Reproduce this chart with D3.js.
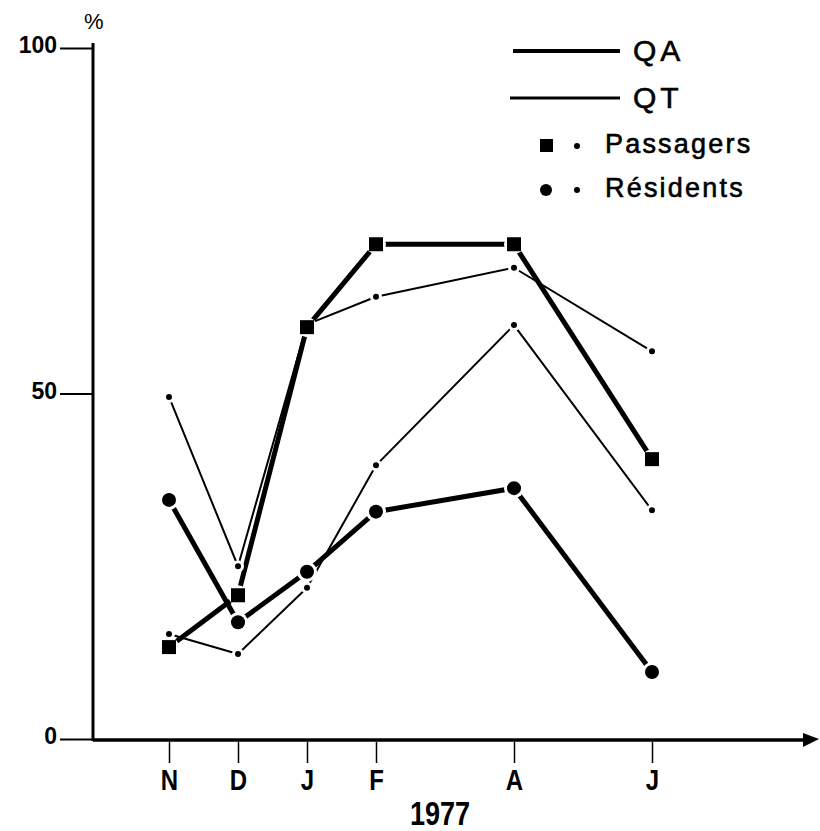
<!DOCTYPE html>
<html><head><meta charset="utf-8">
<script src="https://cdn.jsdelivr.net/npm/d3@7"></script>
<style>
body{margin:0;background:#fff;}
text{font-family:"Liberation Sans",Arial,sans-serif;fill:#000;}
</style></head>
<body>
<svg id="c" width="820" height="831"></svg>
<script>
const monthLabels = ["N","D","J","F","A","J"];
const monthIndex = [0,1,2,3,5,7];
const yTicks = [0,50,100];
const qaPassagers = [13.3,20.8,59.6,71.6,71.6,40.5];
const qaResidents = [34.6,16.9,24.2,32.9,36.3,9.7];
const qtPassagers = [49.5,25.0,60.0,64.0,68.2,56.1];
const qtResidents = [15.2,12.3,21.9,39.6,59.9,33.1];
const yearLabel = "1977";

const svg = d3.select("#c");
const x = d3.scaleLinear().domain([0,7]).range([169,652]);
const y = d3.scaleLinear().domain([0,100]).range([739,48]);
const x0 = 93;

// Y axis
const yAx = svg.append("g").attr("transform",`translate(${x0},0)`)
  .call(d3.axisLeft(y).tickValues(yTicks).tickSize(33).tickPadding(3).tickFormat(d3.format("d")));
yAx.select(".domain").remove();
yAx.selectAll(".tick line").attr("stroke","#000").attr("stroke-width",2);
yAx.selectAll(".tick text").attr("font-size",23).attr("font-weight","bold")
  .attr("font-family","Liberation Sans, Arial, sans-serif").attr("dy","0.2em");
svg.append("line").attr("x1",x0).attr("x2",x0).attr("y1",y(100)-5).attr("y2",y(0)+2)
  .attr("stroke","#000").attr("stroke-width",3);
svg.append("text").attr("x",84).attr("y",29).attr("font-size",22).text("%");

// X axis
const xAx = svg.append("g").attr("transform",`translate(0,${y(0)+3})`)
  .call(d3.axisBottom(x).tickValues(monthIndex).tickSize(21).tickPadding(6)
    .tickFormat((d,i)=>monthLabels[i]));
xAx.select(".domain").remove();
xAx.selectAll(".tick line").attr("stroke","#000").attr("stroke-width",1.5);
xAx.selectAll(".tick text").attr("font-size",30).attr("font-weight","bold")
  .attr("font-family","Liberation Sans, Arial, sans-serif")
  .attr("transform","scale(0.8,1)");
svg.append("line").attr("x1",x0).attr("x2",806).attr("y1",y(0)+1).attr("y2",y(0)+1)
  .attr("stroke","#000").attr("stroke-width",3.5);
svg.append("path").attr("d",`M803,${y(0)-6}L819,${y(0)}L803,${y(0)+8}Z`).attr("fill","#000");
svg.append("text").attr("transform","translate(440,825) scale(0.82,1)").attr("text-anchor","middle")
  .attr("font-size",33).attr("font-weight","bold").text(yearLabel);

// Lines
const line = d3.line().x((d,i)=>x(monthIndex[i])).y(d=>y(d));
const series = [
  {v:qtPassagers, w:2, m:"dot"},
  {v:qtResidents, w:2, m:"dot"},
  {v:qaPassagers, w:5, m:"square"},
  {v:qaResidents, w:5, m:"circle"}
];
series.forEach(s=>{
  svg.append("path").datum(s.v).attr("d",line).attr("fill","none")
    .attr("stroke","#000").attr("stroke-width",s.w).attr("stroke-linejoin","round");
});
// white halos -> small gaps around markers, as in the original drawing
series.forEach(s=>{
  const r = s.m==="dot"?6:10;
  svg.append("g").selectAll("circle").data(s.v).join("circle")
    .attr("cx",(d,i)=>x(monthIndex[i])).attr("cy",d=>y(d)).attr("r",r).attr("fill","#fff");
});
series.forEach(s=>{
  const g = svg.append("g");
  if(s.m==="square"){
    g.selectAll("rect").data(s.v).join("rect")
      .attr("x",(d,i)=>x(monthIndex[i])-7).attr("y",d=>y(d)-7)
      .attr("width",14).attr("height",14).attr("fill","#000");
  } else {
    g.selectAll("circle").data(s.v).join("circle")
      .attr("cx",(d,i)=>x(monthIndex[i])).attr("cy",d=>y(d))
      .attr("r",s.m==="dot"?3:7).attr("fill","#000");
  }
});

// Legend
const lg = svg.append("g");
lg.append("line").attr("x1",513).attr("x2",620).attr("y1",51).attr("y2",51).attr("stroke","#000").attr("stroke-width",4);
lg.append("text").attr("x",633).attr("y",61).attr("font-size",30).attr("letter-spacing",4)
  .attr("stroke","#000").attr("stroke-width",0.6).text("QA");
lg.append("line").attr("x1",510).attr("x2",620).attr("y1",98).attr("y2",98).attr("stroke","#000").attr("stroke-width",3);
lg.append("text").attr("x",633).attr("y",108).attr("font-size",30).attr("letter-spacing",4)
  .attr("stroke","#000").attr("stroke-width",0.6).text("QT");
lg.append("rect").attr("x",540).attr("y",139).attr("width",13).attr("height",13).attr("fill","#000");
lg.append("circle").attr("cx",577).attr("cy",146).attr("r",3).attr("fill","#000");
lg.append("text").attr("x",605).attr("y",153).attr("font-size",27).attr("letter-spacing",2.2)
  .attr("stroke","#000").attr("stroke-width",0.6).text("Passagers");
lg.append("circle").attr("cx",546).attr("cy",190).attr("r",6).attr("fill","#000");
lg.append("circle").attr("cx",577).attr("cy",190).attr("r",3).attr("fill","#000");
lg.append("text").attr("x",605).attr("y",197).attr("font-size",27).attr("letter-spacing",2.2)
  .attr("stroke","#000").attr("stroke-width",0.6).text("Résidents");
</script>
</body></html>
